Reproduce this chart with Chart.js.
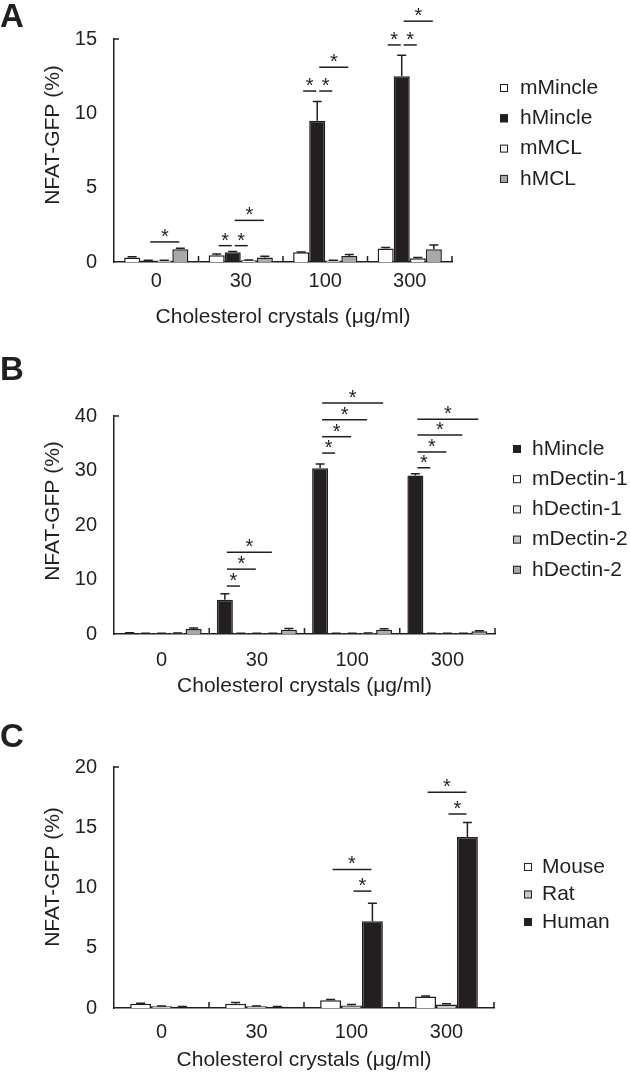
<!DOCTYPE html>
<html>
<head>
<meta charset="utf-8">
<script src="https://cdn.jsdelivr.net/npm/chart.js@4.4.0/dist/chart.umd.min.js"></script>
<style>
  html, body { margin: 0; padding: 0; background: #fff; }
  canvas { position: absolute; left: 0; }
  #chartA { top: 0; }
  #chartB { top: 330px; }
  #chartC { top: 700px; }
</style>
</head>
<body>
<canvas id="chartA" width="630" height="330"></canvas>
<canvas id="chartB" width="630" height="370"></canvas>
<canvas id="chartC" width="630" height="378"></canvas>
<script>
const doses = ['0', '30', '100', '300'];
const xTitle = 'Cholesterol crystals (\u03bcg/ml)';
const yTitle = 'NFAT-GFP (%)';

// panel A
const labelsA = ['mMincle', 'hMincle', 'mMCL', 'hMCL'];
const mMincleA = [0.3, 0.45, 0.65, 0.9];
const hMincleA = [0.1, 0.65, 9.5, 12.5];
const mMCLA = [0.1, 0.12, 0.1, 0.25];
const hMCLA = [0.85, 0.3, 0.4, 0.85];
const errA = [[0.05, 0.08, 0.03, 0.07], [0.02, 0.05, 1.3, 1.4], [0.02, 0.02, 0.02, 0.05], [0.08, 0.08, 0.1, 0.3]];
// [dose index, from series, to series, height]
const sigA = [[0, 1, 3, 1.35], [1, 0, 1, 1.1], [1, 1, 2, 1.1], [1, 1, 3, 2.8],
  [2, 0, 1, 11.5], [2, 1, 2, 11.5], [2, 1, 3, 13.1],
  [3, 0, 1, 14.6], [3, 1, 2, 14.6], [3, 1, 3, 16.2]];

// panel B
const labelsB = ['hMincle', 'mDectin-1', 'hDectin-1', 'mDectin-2', 'hDectin-2'];
const hMincleB = [0.2, 6.3, 30.4, 29.1];
const mDectin1B = [0.1, 0.1, 0.1, 0.1];
const hDectin1B = [0.1, 0.1, 0.1, 0.1];
const mDectin2B = [0.15, 0.1, 0.15, 0.1];
const hDectin2B = [0.9, 0.8, 0.8, 0.5];
const errB = [[0.05, 1.1, 0.8, 0.3], [0.02, 0.02, 0.02, 0.02], [0.02, 0.02, 0.02, 0.02], [0.02, 0.02, 0.02, 0.02], [0.2, 0.2, 0.15, 0.1]];
const sigB = [[1, 0, 1, 8.8], [1, 0, 2, 11.9], [1, 0, 3, 15],
  [2, 0, 1, 33.2], [2, 0, 2, 36.2], [2, 0, 3, 39.3], [2, 0, 4, 42.4],
  [3, 0, 1, 30.5], [3, 0, 2, 33.4], [3, 0, 3, 36.5], [3, 0, 4, 39.4]];

// panel C
const labelsC = ['Mouse', 'Rat', 'Human'];
const mouseC = [0.35, 0.35, 0.65, 0.95];
const ratC = [0.15, 0.15, 0.2, 0.3];
const humanC = [0.1, 0.1, 7.2, 14.2];
const errC = [[0.05, 0.1, 0.05, 0.05], [0.02, 0.02, 0.1, 0.05], [0.02, 0.02, 1.5, 1.2]];
const sigC = [[2, 0, 2, 11.5], [2, 1, 2, 9.7], [3, 0, 2, 17.9], [3, 1, 2, 16.1]];

const ink = '#231f20';
const fontFamily = '"Liberation Sans", Arial, Helvetica, sans-serif';
Chart.defaults.font.family = fontFamily;
Chart.defaults.color = ink;

const decor = {
  id: 'decor',
  afterDatasetsDraw(chart, args, opts) {
    const ctx = chart.ctx;
    const ys = chart.scales.y;
    const area = chart.chartArea;
    ctx.save();
    ctx.strokeStyle = ink;
    ctx.fillStyle = ink;
    ctx.lineWidth = 1.5;

    // error bars, upper side only
    chart.data.datasets.forEach((ds, di) => {
      chart.getDatasetMeta(di).data.forEach((bar, i) => {
        const top = ys.getPixelForValue(ds.data[i] + ds.errors[i]);
        ctx.beginPath();
        ctx.moveTo(bar.x, bar.y);
        ctx.lineTo(bar.x, top);
        ctx.moveTo(bar.x - 4.5, top);
        ctx.lineTo(bar.x + 4.5, top);
        ctx.stroke();
      });
    });

    // inward ticks between doses
    const n = chart.data.labels.length;
    ctx.beginPath();
    for (let i = 1; i <= n; i++) {
      const xb = area.left + i * (area.right - area.left) / n;
      ctx.moveTo(xb, area.bottom);
      ctx.lineTo(xb, area.bottom - 6);
    }
    ctx.moveTo(area.left, area.top);
    ctx.lineTo(area.left + 5, area.top);
    ctx.stroke();

    // significance lines
    ctx.font = '20px ' + fontFamily;
    ctx.textAlign = 'center';
    ctx.textBaseline = 'alphabetic';
    opts.sig.forEach(([cat, from, to, val]) => {
      const x1 = chart.getDatasetMeta(from).data[cat].x + 2;
      const x2 = chart.getDatasetMeta(to).data[cat].x - 1;
      const yy = ys.getPixelForValue(val);
      ctx.beginPath();
      ctx.moveTo(x1, yy);
      ctx.lineTo(x2, yy);
      ctx.stroke();
      ctx.fillText('*', (x1 + x2) / 2, yy + 1);
    });

    // legend
    ctx.font = '21px ' + fontFamily;
    ctx.textAlign = 'left';
    ctx.textBaseline = 'middle';
    ctx.lineWidth = 1;
    chart.data.datasets.forEach((ds, di) => {
      const ly = opts.legend.y + di * opts.legend.gap;
      ctx.fillStyle = ds.backgroundColor;
      ctx.fillRect(opts.legend.x, ly - 4, 8, 8);
      ctx.strokeRect(opts.legend.x + 0.5, ly - 3.5, 7, 7);
      ctx.fillStyle = ink;
      ctx.fillText(ds.label, opts.legend.x + opts.legend.textGap, ly);
    });

    // y title
    ctx.save();
    ctx.translate(opts.yTitle.x, opts.yTitle.y);
    ctx.rotate(-Math.PI / 2);
    ctx.textAlign = 'center';
    ctx.fillText(yTitle, 0, 0);
    ctx.restore();

    // panel letter
    ctx.font = 'bold 33px ' + fontFamily;
    ctx.textBaseline = 'alphabetic';
    ctx.fillText(opts.letter, 0, opts.letterY);
    ctx.restore();
  }
};

function makePanel(id, p) {
  const datasets = p.series.map(s => ({
    label: s.label,
    data: s.data,
    errors: s.errors,
    backgroundColor: s.color,
    borderColor: ink,
    borderWidth: 1.5,
    categoryPercentage: p.catPct,
    barPercentage: 1
  }));
  return new Chart(document.getElementById(id), {
    type: 'bar',
    data: { labels: doses, datasets: datasets },
    options: {
      responsive: false,
      animation: false,
      layout: { padding: { left: 0, top: p.area.top, right: 630 - p.area.right, bottom: 0 } },
      scales: {
        x: {
          grid: { display: false, drawTicks: false },
          border: { display: true, color: ink, width: 1.5 },
          ticks: { color: ink, font: { size: 20 }, padding: p.xTickPad },
          title: { display: true, text: xTitle, color: ink, font: { size: 21 }, padding: { top: 0, bottom: p.xTitlePad } },
          afterFit: s => { s.height = p.height - p.area.bottom; }
        },
        y: {
          min: 0,
          max: p.yMax,
          grid: { display: false, drawTicks: false },
          border: { display: true, color: ink, width: 1.5 },
          ticks: { stepSize: p.yStep, color: ink, font: { size: 20 }, padding: 17 },
          afterFit: s => { s.width = p.area.left; }
        }
      },
      plugins: {
        legend: { display: false },
        tooltip: { enabled: false },
        decor: { sig: p.sig, legend: p.legend, yTitle: p.yTitlePos, letter: p.letter, letterY: p.letterY }
      }
    },
    plugins: [decor]
  });
}

makePanel('chartA', {
  height: 330,
  area: { left: 114, right: 452, top: 39, bottom: 262 },
  yMax: 15, yStep: 5, catPct: 0.76,
  xTickPad: 7, xTitlePad: 0,
  series: [
    { label: labelsA[0], data: mMincleA, errors: errA[0], color: '#ffffff' },
    { label: labelsA[1], data: hMincleA, errors: errA[1], color: ink },
    { label: labelsA[2], data: mMCLA, errors: errA[2], color: '#f2f2f2' },
    { label: labelsA[3], data: hMCLA, errors: errA[3], color: '#a7a9ac' }
  ],
  sig: sigA,
  legend: { x: 500, y: 88, gap: 30.3, textGap: 20 },
  yTitlePos: { x: 53, y: 135 },
  letter: 'A', letterY: 27
});

makePanel('chartB', {
  height: 370,
  area: { left: 114, right: 495, top: 86, bottom: 304 },
  yMax: 40, yStep: 10, catPct: 0.84,
  xTickPad: 14, xTitlePad: 1,
  series: [
    { label: labelsB[0], data: hMincleB, errors: errB[0], color: ink },
    { label: labelsB[1], data: mDectin1B, errors: errB[1], color: '#ffffff' },
    { label: labelsB[2], data: hDectin1B, errors: errB[2], color: '#ededed' },
    { label: labelsB[3], data: mDectin2B, errors: errB[3], color: '#c7c8ca' },
    { label: labelsB[4], data: hDectin2B, errors: errB[4], color: '#a7a9ac' }
  ],
  sig: sigB,
  legend: { x: 513, y: 119, gap: 30.2, textGap: 19 },
  yTitlePos: { x: 53, y: 181 },
  letter: 'B', letterY: 50
});

makePanel('chartC', {
  height: 378,
  area: { left: 114, right: 494, top: 67, bottom: 308 },
  yMax: 20, yStep: 5, catPct: 0.66,
  xTickPad: 12, xTitlePad: 5,
  series: [
    { label: labelsC[0], data: mouseC, errors: errC[0], color: '#ffffff' },
    { label: labelsC[1], data: ratC, errors: errC[1], color: '#c7c8ca' },
    { label: labelsC[2], data: humanC, errors: errC[2], color: ink }
  ],
  sig: sigC,
  legend: { x: 524, y: 167, gap: 27.5, textGap: 18 },
  yTitlePos: { x: 53, y: 177 },
  letter: 'C', letterY: 47
});
</script>
</body>
</html>
